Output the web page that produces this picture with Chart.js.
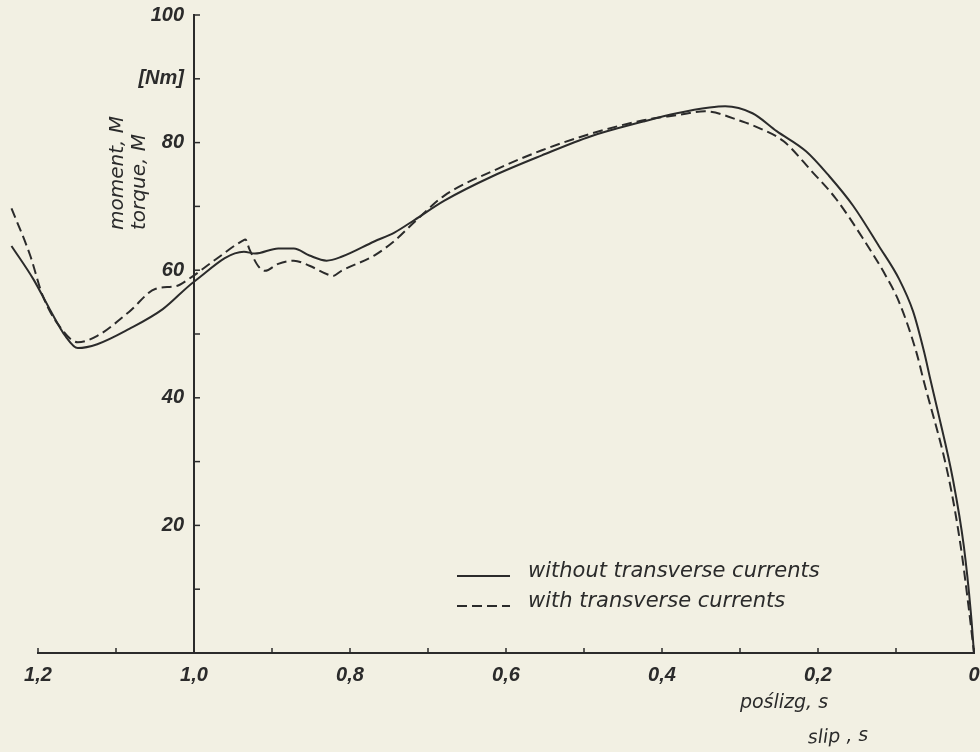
<!DOCTYPE html>
<html>
<head>
<meta charset="utf-8">
<script src="https://cdn.jsdelivr.net/npm/chart.js@4.4.0/dist/chart.umd.min.js"></script>
<style>
  html, body { margin: 0; padding: 0; background: #f2f0e3; }
  canvas { display: block; }
</style>
</head>
<body>
<canvas id="myChart" width="980" height="752"></canvas>
<script>
// slip s and torque M [Nm]
var slipSolid = [1.234, 1.206, 1.185, 1.165, 1.149, 1.124, 1.083, 1.040, 1.000, 0.936, 0.922, 0.892, 0.872, 0.852, 0.830, 0.811, 0.769, 0.743, 0.717, 0.679, 0.616, 0.554, 0.491, 0.424, 0.381, 0.339, 0.319, 0.284, 0.253, 0.215, 0.186, 0.155, 0.122, 0.096, 0.078, 0.064, 0.056, 0.046, 0.027, 0.013, 0.004, 0];
var torqueSolid = [63.8, 58.6, 53.9, 49.7, 47.8, 48.4, 50.8, 53.9, 58.2, 62.9, 62.6, 63.4, 63.4, 62.3, 61.5, 62.1, 64.5, 65.9, 67.9, 70.9, 74.8, 78.0, 81.0, 83.3, 84.6, 85.5, 85.7, 84.6, 81.8, 78.6, 74.8, 70.1, 63.8, 58.6, 53.5, 47.2, 42.9, 37.7, 27.2, 16.7, 6.3, 0];

var slipDashed = [1.234, 1.210, 1.194, 1.173, 1.149, 1.124, 1.083, 1.049, 1.023, 1.007, 0.971, 0.938, 0.934, 0.929, 0.918, 0.909, 0.892, 0.872, 0.852, 0.830, 0.822, 0.811, 0.769, 0.743, 0.717, 0.679, 0.616, 0.554, 0.491, 0.424, 0.381, 0.345, 0.297, 0.274, 0.244, 0.208, 0.177, 0.142, 0.113, 0.096, 0.074, 0.065, 0.032, 0.017, 0.006, 0];
var torqueDashed = [69.7, 62.3, 56.0, 51.3, 48.7, 49.7, 53.5, 57.1, 57.5, 58.6, 61.8, 64.6, 64.8, 63.3, 60.7, 59.9, 61.0, 61.5, 60.7, 59.4, 59.1, 59.9, 62.3, 64.6, 67.6, 71.7, 75.6, 78.8, 81.4, 83.5, 84.3, 84.9, 83.3, 82.2, 80.2, 75.5, 71.2, 64.9, 59.1, 55.0, 47.2, 42.9, 27.2, 16.7, 6.3, 0];

var seriesNames = ["without transverse currents", "with transverse currents"];

// labelled ticks (the other ticks are only marks)
var xLabelValues = [1.2, 1.0, 0.8, 0.6, 0.4, 0.2, 0];
var xLabelTexts = ["1,2", "1,0", "0,8", "0,6", "0,4", "0,2", "0"];
var yLabelValues = [20, 40, 60, 80, 90, 100];
var yLabelTexts = ["20", "40", "60", "80", "[Nm]", "100"];

var ink = "#2b2b2b";

function toPoints(xs, ys) {
    return xs.map(function (x, i) { return { x: x, y: ys[i] }; });
}

function findLabel(values, texts, v) {
    for (var i = 0; i < values.length; i++) {
        if (Math.abs(values[i] - v) < 1e-6) return texts[i];
    }
    return "";
}

// tick marks, legend and axis titles drawn the way the old figure has them
const decorations = {
    id: 'decorations',
    afterDraw(chart) {
        const ctx = chart.ctx;
        const xs = chart.scales.x;
        const ys = chart.scales.y;
        const x0 = xs.getPixelForValue(1.0);
        const yb = ys.getPixelForValue(0);

        ctx.save();
        ctx.strokeStyle = ink;
        ctx.lineWidth = 1.5;
        xs.ticks.forEach(t => {
            const px = xs.getPixelForValue(t.value);
            ctx.beginPath();
            ctx.moveTo(px, yb);
            ctx.lineTo(px, yb - 5);
            ctx.stroke();
        });
        ys.ticks.forEach(t => {
            if (t.value === 0) return;
            const py = ys.getPixelForValue(t.value);
            ctx.beginPath();
            ctx.moveTo(x0, py);
            ctx.lineTo(x0 + 6, py);
            ctx.stroke();
        });

        // legend
        ctx.fillStyle = ink;
        ctx.font = 'italic 21px "DejaVu Sans"';
        ctx.textBaseline = 'middle';
        ctx.textAlign = 'left';
        const rows = [576, 606];
        chart.data.datasets.forEach((ds, i) => {
            ctx.save();
            ctx.lineWidth = ds.borderWidth;
            ctx.setLineDash(ds.borderDash || []);
            ctx.beginPath();
            ctx.moveTo(457, rows[i]);
            ctx.lineTo(510, rows[i]);
            ctx.stroke();
            ctx.restore();
            ctx.fillText(ds.label, 528, rows[i] - 4);
        });

        // x titles
        ctx.font = 'italic 19px "DejaVu Sans"';
        ctx.textAlign = 'center';
        ctx.fillText("poślizg, s", 784, 703);
        ctx.save();
        ctx.translate(838, 737);
        ctx.rotate(-0.05);
        ctx.fillText("slip , s", 0, 0);
        ctx.restore();

        // y titles
        ctx.font = 'italic 20px "DejaVu Sans"';
        ctx.textAlign = 'left';
        ctx.save();
        ctx.translate(118, 230);
        ctx.rotate(-Math.PI / 2);
        ctx.fillText("moment, M", 0, 0);
        ctx.restore();
        ctx.save();
        ctx.translate(140, 230);
        ctx.rotate(-Math.PI / 2);
        ctx.fillText("torque, M", 0, 0);
        ctx.restore();

        ctx.restore();
    }
};

new Chart(document.getElementById("myChart"), {
    type: "scatter",
    data: {
        datasets: [{
            label: seriesNames[0],
            data: toPoints(slipSolid, torqueSolid),
            showLine: true,
            borderColor: ink,
            borderWidth: 2,
            pointRadius: 0,
            cubicInterpolationMode: 'monotone',
            clip: false
        }, {
            label: seriesNames[1],
            data: toPoints(slipDashed, torqueDashed),
            showLine: true,
            borderColor: ink,
            borderWidth: 2,
            borderDash: [10, 5],
            pointRadius: 0,
            cubicInterpolationMode: 'monotone',
            clip: false
        }]
    },
    options: {
        responsive: false,
        animation: false,
        layout: { padding: { left: 38, right: 6, top: 11, bottom: 55 } },
        plugins: {
            legend: { display: false },
            tooltip: { enabled: false }
        },
        scales: {
            x: {
                type: 'linear',
                reverse: true,
                min: 0,
                max: 1.2,
                grid: { display: false, drawTicks: false },
                border: { display: true, color: ink, width: 2 },
                afterFit: function (scale) {
                    // let the axis run to the edge like in the original
                    scale.paddingLeft = 0;
                    scale.paddingRight = 0;
                },
                ticks: {
                    stepSize: 0.1,
                    padding: 10,
                    color: ink,
                    font: { family: "Liberation Sans", size: 20, style: 'italic', weight: 'bold' },
                    maxRotation: 0,
                    autoSkip: false,
                    callback: function (v) { return findLabel(xLabelValues, xLabelTexts, v); }
                }
            },
            y: {
                type: 'linear',
                position: { x: 1.0 },
                min: 0,
                max: 100,
                grid: { display: false, drawTicks: false },
                border: { display: true, color: ink, width: 2 },
                ticks: {
                    stepSize: 10,
                    color: ink,
                    font: { family: "Liberation Sans", size: 20, style: 'italic', weight: 'bold' },
                    autoSkip: false,
                    callback: function (v) {
                        var t = findLabel(yLabelValues, yLabelTexts, v);
                        return t ? t + "\u2002" : "";
                    }
                }
            }
        }
    },
    plugins: [decorations]
});
</script>
</body>
</html>
